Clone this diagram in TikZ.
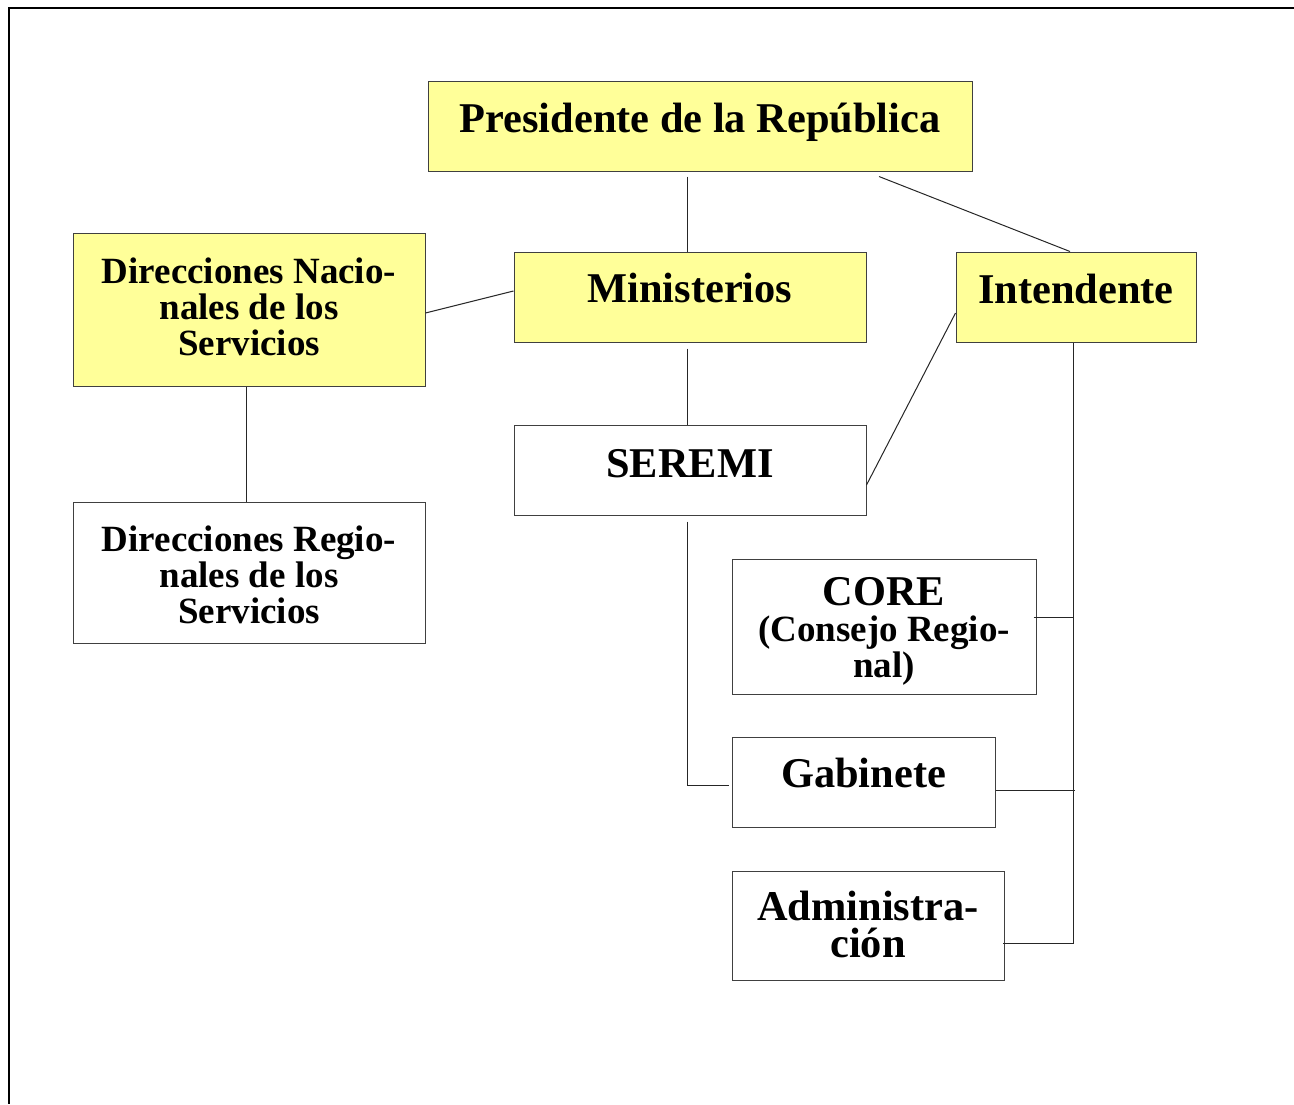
\documentclass[tikz,border=0pt]{standalone}
\usepackage{fontspec}
\setmainfont{Liberation Serif}
\definecolor{boxyellow}{HTML}{FFFF99}
\definecolor{boxline}{HTML}{404040}
\begin{document}
\begin{tikzpicture}[x=1pt,y=-1pt,
  box/.style={draw=boxline,line width=1pt,inner sep=0pt,minimum width=#1},
  ybox/.style={box=#1,fill=boxyellow},
  big/.style={font=\fontsize{42.4}{37}\selectfont\bfseries,align=center,anchor=base,inner sep=0pt},
  small/.style={font=\fontsize{37}{36}\selectfont\bfseries,align=center,anchor=base,inner sep=0pt},
  conn/.style={draw=black!85,line width=1pt}]
\useasboundingbox (0,0) rectangle (1294,1104);
% frame
\draw[line width=2.4pt] (1294,8) -- (9,8) -- (9,1104);
% boxes
\node[ybox=544pt,minimum height=90pt] (pres) at (700,126) {};
\node[ybox=352pt,minimum height=153pt] (dnac) at (249,309.5) {};
\node[ybox=352pt,minimum height=90pt] (mini) at (690,297) {};
\node[ybox=240pt,minimum height=90pt] (inte) at (1076,297) {};
\node[box=352pt,minimum height=90pt] (ser) at (690,470) {};
\node[box=352pt,minimum height=141pt] (dreg) at (249,572.5) {};
\node[box=304pt,minimum height=135pt] (core) at (884,626.5) {};
\node[box=263pt,minimum height=90pt] (gab) at (863.5,782) {};
\node[box=272pt,minimum height=109pt] (adm) at (868,925.5) {};
% texts (multi-line texts are anchored at the baseline of their last line)
\node[big] (presT) at (700,132) {Presidente de la República};
\node[small] (dnacT) at (249,355) {Direcciones Nacio-\\nales de los\\Servicios};
\node[big] (miniT) at (690,302) {Ministerios};
\node[big] (inteT) at (1076,303) {Intendente};
\node[big] (serT) at (690,477) {SEREMI};
\node[small] (dregT) at (249,623) {Direcciones Regio-\\nales de los\\Servicios};
\node[big] (coreT) at (884,605) {CORE};
\node[small] (coreT2) at (884,677) {(Consejo Regio-\\nal)};
\node[big] (gabT) at (863.5,787) {Gabinete};
\node[big] (admT) at (868,957) {Administra-\\ción};
% connectors
\coordinate (trunk) at ([xshift=-3pt]inte.south);
\draw[conn] ([xshift=-13pt,yshift=-5pt]pres.south) -- ([xshift=-3pt]mini.north);
\draw[conn] ([xshift=179pt,yshift=-5pt]pres.south) -- ([xshift=-6pt]inte.north);
\draw[conn] ([yshift=-3.5pt]dnac.east) -- ([yshift=6pt]mini.west);
\draw[conn] ([xshift=-3pt]dnac.south) -- ([xshift=-3pt]dreg.north);
\draw[conn] ([xshift=-3pt,yshift=-6pt]mini.south) -- ([xshift=-3pt]ser.north);
\draw[conn] ([yshift=-16pt]inte.west) -- ([yshift=-15pt]ser.east);
\draw[conn] ([xshift=-3pt,yshift=-6pt]ser.south) |- ([xshift=-3pt,yshift=-3pt]gab.west);
\draw[conn] (trunk) |- ([xshift=-2pt,yshift=-17.5pt]adm.east);
\coordinate (coreE) at ([xshift=-3pt,yshift=9.5pt]core.east);
\draw[conn] (coreE) -- (coreE -| trunk);
\coordinate (gabE) at ([yshift=-8pt]gab.east);
\draw[conn] (gabE) -- ([xshift=2pt]gabE -| trunk);
\end{tikzpicture}
\end{document}
